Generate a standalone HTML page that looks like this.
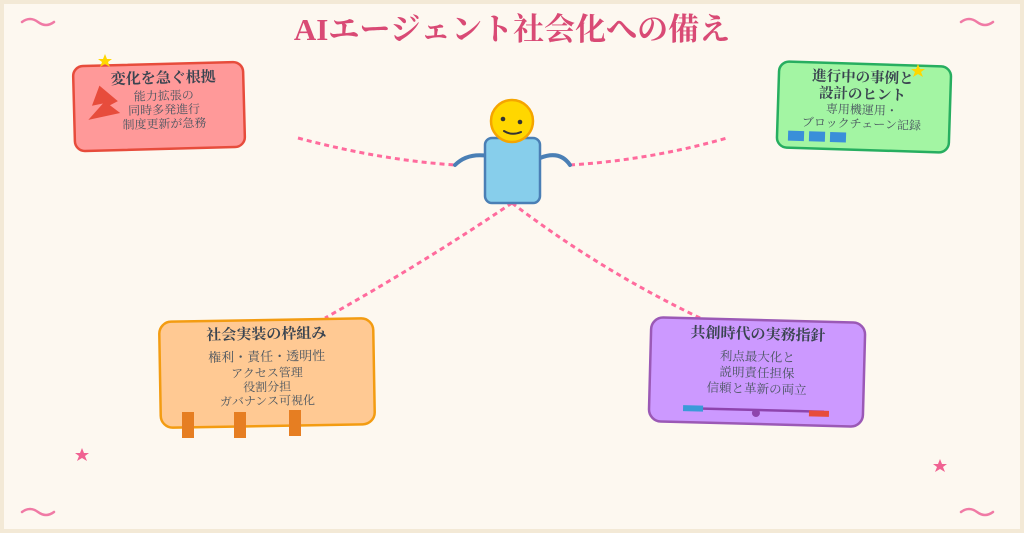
<!DOCTYPE html>
<html><head><meta charset="utf-8"><style>
html,body{margin:0;padding:0;}
body{width:1024px;height:533px;overflow:hidden;background:#f3e9d6;}
svg{display:block;}
text{font-family:"Liberation Serif","Noto Serif CJK SC","Noto Sans CJK JP",serif;}
</style></head><body>
<svg width="1024" height="533" viewBox="0 0 1024 533" xmlns="http://www.w3.org/2000/svg">
<rect x="4" y="4" width="1016" height="525" fill="#fdf8f0"/>
<g fill="none" stroke="#f07aa5" stroke-width="2.5" stroke-linecap="round">
<path d="M22 22 q8 -6 16 0 t16 0"/>
<path d="M961 22 q8 -6 16 0 t16 0"/>
<path d="M22 512 q8 -6 16 0 t16 0"/>
<path d="M961 512 q8 -6 16 0 t16 0"/>
</g>
<text x="512" y="40" text-anchor="middle" font-size="31" font-weight="bold" fill="#d94a75">AIエージェント社会化への備え</text>
<g fill="none" stroke="#ff6b9d" stroke-width="3" stroke-dasharray="5,4">
<path d="M298 138 Q380 160 455 165"/>
<path d="M570 165 Q650 160 727 138"/>
<path d="M512 203 Q420 265 325 318"/>
<path d="M512 203 Q600 270 700 318"/>
</g>
<path d="M497 158 Q470 150 455 165" fill="none" stroke="#4a7fb5" stroke-width="4" stroke-linecap="round"/>
<path d="M540 158 Q560 150 570 165" fill="none" stroke="#4a7fb5" stroke-width="4" stroke-linecap="round"/>
<rect x="485" y="138" width="55" height="65" rx="7" fill="#87ceeb" stroke="#4a7fb5" stroke-width="2.5"/>
<circle cx="512" cy="121" r="21" fill="#ffd700" stroke="#f5a500" stroke-width="2.5"/>
<circle cx="503" cy="119" r="2.3" fill="#333"/><circle cx="520" cy="122" r="2.3" fill="#333"/>
<path d="M504 131 Q512 136 521 132" fill="none" stroke="#333" stroke-width="2" stroke-linecap="round"/>

<g transform="rotate(-1.5 160 106)">
<rect x="74" y="64" width="170" height="85" rx="10" fill="#ff9999" stroke="#e74c3c" stroke-width="2.5"/>
<text x="164" y="83" text-anchor="middle" font-size="15" font-weight="bold" fill="#3a4450">変化を急ぐ根拠</text>
<g font-size="12" fill="#4a5560" text-anchor="middle">
<text x="164" y="100">能力拡張の</text><text x="164" y="114">同時多発進行</text><text x="164" y="128">制度更新が急務</text></g>
<path d="M100 84 L92 104 L103 102 L88 118 L120 112 L110 104 L118 100 Z" fill="#e74c3c"/>
</g>
<path d="M105 54 l2 5 5 0 -4 3 2 5 -5 -3 -5 3 2 -5 -4 -3 5 0z" fill="#ffd700"/>

<g transform="rotate(1.8 864 106)">
<rect x="778" y="64" width="172" height="86" rx="10" fill="#a3f5a3" stroke="#27ae60" stroke-width="2.5"/>
<text x="862" y="82" text-anchor="middle" font-size="14.5" font-weight="bold" fill="#3a4450">進行中の事例と</text>
<text x="862" y="99" text-anchor="middle" font-size="14.5" font-weight="bold" fill="#3a4450">設計のヒント</text>
<g font-size="12" fill="#4a5560" text-anchor="middle">
<text x="862" y="114">専用機運用・</text><text x="862" y="128">ブロックチェーン記録</text></g>
<rect x="789" y="133" width="16" height="10" fill="#3a8fd9"/>
<rect x="810" y="133" width="16" height="10" fill="#3a8fd9"/>
<rect x="831" y="133" width="16" height="10" fill="#3a8fd9"/>
</g>
<path d="M918 64 l2 5 5 0 -4 3 2 5 -5 -3 -5 3 2 -5 -4 -3 5 0z" fill="#ffd700"/>

<g transform="rotate(-1 267 373)">
<rect x="160" y="320" width="214" height="106" rx="12" fill="#ffc993" stroke="#f39c12" stroke-width="2.5"/>
<text x="267" y="339" text-anchor="middle" font-size="15" font-weight="bold" fill="#3a4450">社会実装の枠組み</text>
<text x="267" y="361" text-anchor="middle" font-size="13" fill="#4a5560">権利・責任・透明性</text>
<g font-size="12" fill="#4a5560" text-anchor="middle">
<text x="267" y="377">アクセス管理</text><text x="267" y="391">役割分担</text><text x="267" y="405">ガバナンス可視化</text></g>
</g>
<rect x="182" y="412" width="12" height="26" fill="#e67e22"/>
<rect x="234" y="412" width="12" height="26" fill="#e67e22"/>
<rect x="289" y="410" width="12" height="26" fill="#e67e22"/>

<g transform="rotate(1.5 757 373)">
<rect x="650" y="320" width="214" height="104" rx="12" fill="#cc99ff" stroke="#9b59b6" stroke-width="2.5"/>
<text x="757" y="339" text-anchor="middle" font-size="15" font-weight="bold" fill="#3a4450">共創時代の実務指針</text>
<g font-size="12.5" fill="#4a5560" text-anchor="middle">
<text x="757" y="361">利点最大化と</text><text x="757" y="377">説明責任担保</text><text x="757" y="393">信頼と革新の両立</text></g>
<line x1="690" y1="410" x2="825" y2="410" stroke="#8e44ad" stroke-width="2.5"/>
<rect x="684" y="407" width="20" height="6" fill="#3a9ad9"/>
<rect x="810" y="409" width="20" height="6" fill="#e74c3c"/>
<circle cx="757" cy="413" r="4" fill="#8e44ad"/>
</g>

<path d="M82 448 l2 5 5 0 -4 3 2 5 -5 -3 -5 3 2 -5 -4 -3 5 0z" fill="#f06292"/>
<path d="M940 459 l2 5 5 0 -4 3 2 5 -5 -3 -5 3 2 -5 -4 -3 5 0z" fill="#f06292"/>
</svg>
</body></html>
